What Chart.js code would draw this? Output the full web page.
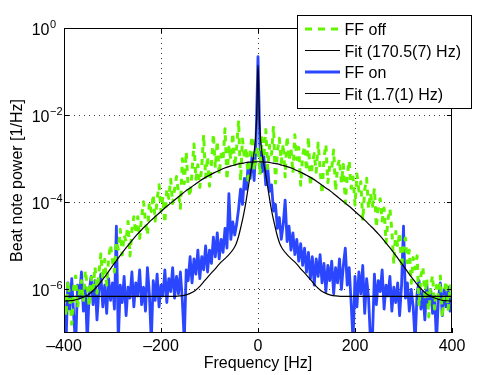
<!DOCTYPE html>
<html><head><meta charset="utf-8">
<script src="https://cdn.jsdelivr.net/npm/chart.js@4/dist/chart.umd.min.js"></script>
<style>html,body{margin:0;padding:0;background:#fff}canvas{display:block}</style>
</head><body>
<canvas id="c" width="498" height="375"></canvas>
<script>
// ---- data (log10 of beat note power in 1/Hz) ----
const SPEC_START = -400, SPEC_STEP = 4;          // Hz grid of measured spectra
const ffOffLog = [
-6.17,-6.62,-5.81,-6.21,-6.80,-5.95,-5.69,-6.43,-6.06,-5.80,
-6.28,-5.56,-5.93,-6.40,-5.72,-5.98,-5.48,-6.09,-5.63,-5.18,
-5.77,-5.31,-5.90,-5.29,-4.97,-5.36,-5.60,-4.89,-5.08,-4.62,
-5.21,-4.75,-4.90,-4.44,-5.23,-4.63,-4.33,-4.72,-4.33,-4.83,
-4.33,-3.99,-4.44,-4.75,-4.00,-4.21,-3.82,-4.43,-3.94,-3.60,
-4.21,-3.87,-4.48,-3.69,-3.91,-3.47,-4.03,-3.70,-3.41,-3.78,
-4.14,-3.00,-3.57,-2.84,-3.65,-3.87,-3.29,-2.66,-3.47,-3.14,
-3.66,-3.18,-2.45,-3.43,-2.95,-3.63,-3.11,-2.43,-3.21,-2.59,
-3.37,-2.90,-3.03,-2.31,-3.49,-2.73,-3.02,-2.41,-3.19,-2.73,
-2.12,-3.51,-2.55,-3.00,-2.74,-3.58,-2.78,-2.48,-3.27,-2.92,
-2.72,-3.37,-2.52,-2.98,-2.33,-3.23,-2.69,-2.90,-2.25,-3.56,
-2.82,-2.53,-3.09,-2.66,-3.42,-2.48,-3.04,-2.76,-3.33,-2.45,
-3.02,-2.74,-3.61,-2.93,-2.71,-3.28,-2.50,-3.63,-3.10,-2.88,
-3.31,-2.64,-3.22,-3.81,-2.99,-2.67,-3.55,-3.14,-3.22,-2.80,
-3.74,-3.18,-3.01,-3.55,-3.13,-4.02,-3.41,-3.04,-3.68,-3.42,
-4.06,-3.35,-3.74,-3.53,-4.42,-3.71,-3.45,-4.15,-3.79,-4.09,
-3.68,-4.58,-4.08,-3.92,-4.43,-4.13,-4.93,-4.39,-4.15,-4.65,
-5.41,-4.67,-5.03,-4.69,-5.50,-5.01,-4.82,-5.39,-5.10,-5.86,
-5.27,-5.53,-5.23,-6.39,-5.68,-5.48,-6.17,-5.75,-6.63,-5.91,
-5.68,-6.45,-5.91,-6.18,-5.69,-6.65,-6.05,-5.81,-6.46,-5.92,
-6.17];
const ffOnLog = [
-6.30,-7.30,-5.85,-6.45,-5.75,-6.60,-7.30,-5.90,-6.20,-5.60,
-6.50,-5.95,-7.20,-6.05,-5.70,-6.35,-5.80,-6.70,-6.00,-5.65,
-6.40,-5.90,-6.55,-5.75,-6.25,-5.85,-6.45,-4.55,-7.20,-5.90,
-6.30,-5.70,-6.60,-5.95,-6.20,-5.60,-6.40,-5.85,-6.15,-5.55,
-6.35,-5.95,-6.50,-5.50,-6.10,-7.20,-5.80,-6.25,-5.65,-6.40,
-5.90,-6.15,-5.55,-6.30,-5.75,-6.05,-5.50,-6.20,-5.70,-6.10,
-5.60,-6.25,-7.20,-5.55,-5.80,-5.25,-5.85,-5.30,-5.65,-5.10,
-5.75,-5.25,-5.55,-5.00,-5.60,-5.10,-5.40,-4.80,-5.25,-4.70,
-5.30,-4.85,-5.15,-4.60,-5.05,-3.80,-4.85,-4.45,-4.75,-4.50,
-4.15,-3.70,-4.05,-3.45,-3.70,-3.10,-3.45,-2.90,-3.50,-2.60,
-0.66,-2.70,-3.30,-2.95,-3.60,-3.20,-3.75,-3.60,-4.20,-4.05,
-4.60,-4.35,-4.85,-4.50,-3.95,-4.90,-4.55,-5.10,-4.70,-5.20,
-4.85,-5.35,-4.95,-5.45,-5.05,-5.60,-5.15,-5.75,-5.25,-5.90,
-5.30,-5.70,-5.20,-5.85,-5.40,-6.05,-5.45,-5.80,-5.35,-6.10,
-5.50,-5.85,-5.30,-6.00,-5.45,-5.05,-5.90,-5.50,-6.30,-7.20,
-5.70,-6.40,-5.60,-6.10,-5.45,-6.55,-5.75,-6.20,-7.20,-7.10,
-5.65,-6.35,-5.80,-6.05,-5.55,-6.45,-5.90,-6.15,-5.70,-6.50,
-5.95,-6.30,-5.85,-6.60,-5.90,-4.55,-6.20,-5.85,-6.50,-6.00,
-6.40,-7.20,-6.10,-5.80,-6.45,-6.05,-6.70,-5.90,-6.35,-6.00,
-6.55,-6.15,-7.20,-6.20,-5.85,-6.60,-6.00,-6.40,-5.95,-6.50,
-6.10];
const FIT_OFF_START = -400, FIT_OFF_STEP = 10;
const fitOffLog = [
-6.27,-6.26,-6.25,-6.22,-6.18,-6.12,-6.03,-5.91,-5.77,-5.62,
-5.46,-5.31,-5.16,-5.02,-4.88,-4.75,-4.63,-4.52,-4.41,-4.31,
-4.21,-4.11,-4.02,-3.93,-3.84,-3.75,-3.67,-3.59,-3.51,-3.44,
-3.38,-3.32,-3.27,-3.22,-3.18,-3.15,-3.12,-3.10,-3.08,-3.075,
-3.07,
-3.075,-3.08,-3.10,-3.12,-3.15,-3.18,-3.22,-3.27,-3.32,-3.38,
-3.44,-3.51,-3.59,-3.67,-3.75,-3.84,-3.93,-4.02,-4.11,-4.21,
-4.31,-4.41,-4.52,-4.63,-4.75,-4.88,-5.02,-5.16,-5.31,-5.46,
-5.62,-5.77,-5.91,-6.03,-6.12,-6.18,-6.22,-6.25,-6.26,-6.27];
const fitOnFreq = [-400,-300,-200,-170,-160,-150,-140,-130,-120,-110,-100,-90,-80,-70,-60,-50,-45,-40,-35,-30,-25,-20,-15,-10,-7.5,-5,-3,-2,-1,
  0,1,2,3,5,7.5,10,15,20,25,30,35,40,45,50,60,70,80,90,100,110,120,130,140,150,160,170,200,300,400];
const fitOnLog = [-6.16,-6.16,-6.16,-6.16,-6.15,-6.13,-6.09,-6.03,-5.93,-5.80,-5.67,-5.55,-5.42,-5.31,-5.20,-5.06,-4.95,-4.78,-4.55,-4.30,-4.00,-3.65,-3.30,-3.00,-2.80,-2.50,-2.10,-1.70,-1.20,
  -0.85,-1.20,-1.70,-2.10,-2.50,-2.80,-3.00,-3.30,-3.65,-4.00,-4.30,-4.55,-4.78,-4.95,-5.06,-5.20,-5.31,-5.42,-5.55,-5.67,-5.80,-5.93,-6.03,-6.09,-6.13,-6.15,-6.16,-6.16,-6.16,-6.16];
const seriesLabels = ['FF off', 'Fit (170.5(7) Hz)', 'FF on', 'Fit (1.7(1) Hz)'];
const xTicks = [-400, -200, 0, 200, 400];
const yTickExps = [0, -2, -4, -6];
const X_MIN = -400, X_MAX = 400, Y_MIN = 1e-7, Y_MAX = 1;

// ---- build points ----
const toPts = (xs, logs) => logs.map((v, i) => ({x: xs[i], y: Math.pow(10, v)}));
const specFreq = ffOffLog.map((_, i) => SPEC_START + i * SPEC_STEP);
const fitOffFreq = fitOffLog.map((_, i) => FIT_OFF_START + i * FIT_OFF_STEP);

const FONT = '"Liberation Sans", Arial, Helvetica, sans-serif';
const GREEN = '#62f500', BLUE = '#2a46ff';

const fmt = v => (v < 0 ? '\u2013' + Math.abs(v) : String(v));

const decor = {
  id: 'decor',
  beforeDatasetsDraw(chart) {
    const {ctx, chartArea: a, scales: {x, y}} = chart;
    ctx.save();
    ctx.strokeStyle = '#3a3a3a'; ctx.lineWidth = 1; ctx.setLineDash([1, 4]);
    xTicks.filter(v => v > X_MIN && v < X_MAX).forEach(v => {
      const px = Math.round(x.getPixelForValue(v)) + 0.5;
      ctx.beginPath(); ctx.moveTo(px, a.top); ctx.lineTo(px, a.bottom); ctx.stroke();
    });
    yTickExps.filter(e => Math.pow(10, e) > Y_MIN && Math.pow(10, e) < Y_MAX).forEach(e => {
      const py = Math.round(y.getPixelForValue(Math.pow(10, e))) + 0.5;
      ctx.beginPath(); ctx.moveTo(a.left, py); ctx.lineTo(a.right, py); ctx.stroke();
    });
    ctx.restore();
  },
  afterDatasetsDraw(chart) {
    const {ctx, chartArea: a, scales: {x, y}} = chart;
    ctx.save();
    ctx.strokeStyle = '#000'; ctx.lineWidth = 1; ctx.setLineDash([]);
    ctx.strokeRect(a.left + 0.5, a.top + 0.5, a.right - a.left - 1, a.bottom - a.top - 1);
    const T = 5;
    ctx.beginPath();
    xTicks.forEach(v => {
      const px = Math.round(x.getPixelForValue(v)) + 0.5;
      ctx.moveTo(px, a.bottom); ctx.lineTo(px, a.bottom - T);
      ctx.moveTo(px, a.top); ctx.lineTo(px, a.top + T);
    });
    yTickExps.forEach(e => {
      const py = Math.round(y.getPixelForValue(Math.pow(10, e))) + 0.5;
      ctx.moveTo(a.left, py); ctx.lineTo(a.left + T, py);
      ctx.moveTo(a.right, py); ctx.lineTo(a.right - T, py);
    });
    ctx.stroke();
    // y tick labels 10^n
    ctx.fillStyle = '#000'; ctx.textBaseline = 'alphabetic';
    yTickExps.forEach(e => {
      const py = y.getPixelForValue(Math.pow(10, e));
      ctx.font = '16px ' + FONT; ctx.textAlign = 'right';
      ctx.fillText('10', a.left - 14.5, py + 6.5);
      ctx.font = '11px ' + FONT; ctx.textAlign = 'left';
      ctx.fillText(e < 0 ? '\u2212' + Math.abs(e) : String(e), a.left - 14, py - 0.5);
    });
    ctx.restore();
  },
  afterDraw(chart) {
    const {ctx} = chart;
    const ds = chart.data.datasets;
    const L = 297.5, T = 15.5, W = 174, H = 93;
    ctx.save();
    ctx.fillStyle = '#fff'; ctx.fillRect(L, T, W, H);
    ctx.strokeStyle = '#000'; ctx.lineWidth = 1; ctx.setLineDash([]);
    ctx.strokeRect(L, T, W, H);
    const base = [35, 56.5, 78, 99.5];
    ds.forEach((d, i) => {
      const ly = base[i] - 6;
      ctx.save();
      ctx.strokeStyle = d.borderColor; ctx.lineWidth = d.borderWidth;
      ctx.setLineDash(d.borderDash ? [7, 6] : []);
      ctx.beginPath(); ctx.moveTo(305, ly); ctx.lineTo(340, ly); ctx.stroke();
      ctx.restore();
      ctx.fillStyle = '#000'; ctx.font = '16px ' + FONT;
      ctx.textAlign = 'left'; ctx.textBaseline = 'alphabetic';
      ctx.fillText(d.label, 344.5, base[i]);
    });
    ctx.restore();
  }
};

new Chart(document.getElementById('c'), {
  type: 'line',
  data: {
    datasets: [
      {label: seriesLabels[0], data: toPts(specFreq, ffOffLog), borderColor: GREEN, borderWidth: 3,
       borderDash: [6, 6], borderJoinStyle: 'round', order: 2, pointRadius: 0, tension: 0},
      {label: seriesLabels[1], data: toPts(fitOffFreq, fitOffLog), borderColor: '#000', borderWidth: 1.2,
       order: 1, pointRadius: 0, cubicInterpolationMode: 'monotone'},
      {label: seriesLabels[2], data: toPts(specFreq, ffOnLog), borderColor: BLUE, borderWidth: 2.8,
       borderJoinStyle: 'round', order: 3, pointRadius: 0, tension: 0},
      {label: seriesLabels[3], data: toPts(fitOnFreq, fitOnLog), borderColor: '#000', borderWidth: 1.2,
       order: 0, pointRadius: 0, cubicInterpolationMode: 'monotone'}
    ]
  },
  options: {
    responsive: false, animation: false, devicePixelRatio: 1,
    layout: {padding: {left: 0, right: 46, top: 28, bottom: 0}},
    plugins: {legend: {display: false}, tooltip: {enabled: false}},
    scales: {
      x: {
        type: 'linear', min: X_MIN, max: X_MAX,
        afterBuildTicks: s => { s.ticks = xTicks.map(v => ({value: v})); },
        ticks: {callback: v => fmt(v), font: {family: FONT, size: 16}, color: '#000', padding: 4,
                maxRotation: 0, autoSkip: false},
        grid: {display: false, drawTicks: false}, border: {display: false},
        title: {display: true, text: 'Frequency [Hz]', font: {family: FONT, size: 16}, color: '#000',
                padding: {top: 0, bottom: 2}},
        afterFit: s => { s.height = 42; }
      },
      y: {
        type: 'logarithmic', min: Y_MIN, max: Y_MAX,
        ticks: {display: false}, grid: {display: false, drawTicks: false}, border: {display: false},
        title: {display: true, text: 'Beat note power [1/Hz]', font: {family: FONT, size: 16}, color: '#000',
                padding: {top: 7.5, bottom: 0}},
        afterFit: s => { s.width = 64; }
      }
    }
  },
  plugins: [decor]
});
</script>
</body></html>
